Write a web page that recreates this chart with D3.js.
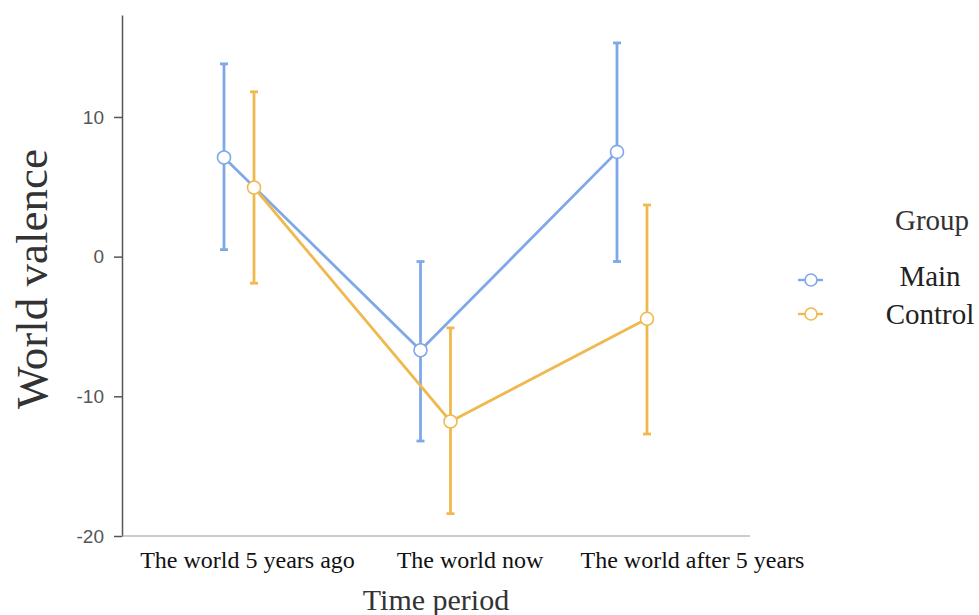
<!DOCTYPE html>
<html>
<head>
<meta charset="utf-8">
<script src="https://cdn.jsdelivr.net/npm/d3@7"></script>
<style>
  body { margin: 0; background: #fff; }
  svg { display: block; }
</style>
</head>
<body>
<svg id="chart" width="979" height="615"></svg>
<script>
// Time periods on the x axis
const periods = ["The world 5 years ago", "The world now", "The world after 5 years"];
const groups = ["Main", "Control"];
const groupColors = ["#7fa8e8", "#efb94f"];

// Group means and 95% interval bounds per period
const mainMean  = [7.1, -6.7, 7.5];
const mainLow   = [0.5, -13.2, -0.35];
const mainHigh  = [13.8, -0.35, 15.3];
const controlMean = [4.95, -11.8, -4.45];
const controlLow  = [-1.9, -18.4, -12.7];
const controlHigh = [11.8, -5.1, 3.7];
const yTicks = [-20, -10, 0, 10];

const series = [
  { name: groups[0], color: groupColors[0], mean: mainMean, low: mainLow, high: mainHigh, offset: -15 },
  { name: groups[1], color: groupColors[1], mean: controlMean, low: controlLow, high: controlHigh, offset: 15 }
];

const serif = "'Liberation Serif', 'Times New Roman', serif";
const svg = d3.select("#chart");
const plotLeft = 122, plotRight = 750, plotTop = 15, plotBottom = 536;

const x = d3.scalePoint().domain(periods).range([239, 632]);
const xLabel = d3.scalePoint().domain(periods).range([247, 692]);
const y = d3.scaleLinear().domain([-20, 17.3]).range([plotBottom, plotTop]);

// Y axis
const yAxis = svg.append("g")
  .attr("transform", `translate(${plotLeft},0)`)
  .call(d3.axisLeft(y).tickValues(yTicks).tickFormat(d => String(d))
    .tickSize(8).tickSizeOuter(0).tickPadding(10));
yAxis.select(".domain").attr("stroke", "#555").attr("stroke-width", 1.5);
yAxis.selectAll(".tick line").attr("stroke", "#555").attr("stroke-width", 1.5);
yAxis.selectAll(".tick text")
  .attr("fill", "#555")
  .style("font-family", "'Liberation Sans', Arial, sans-serif")
  .style("font-size", "19px");

// X axis baseline and category labels
const xAxis = svg.append("g")
  .attr("transform", `translate(0,${plotBottom})`)
  .call(d3.axisBottom(xLabel).tickSize(0).tickPadding(15));
xAxis.select(".domain").attr("d", `M${plotLeft},0H${plotRight}`).attr("stroke", "#999").attr("stroke-width", 1.2);
xAxis.selectAll(".tick text")
  .attr("fill", "#111")
  .style("font-family", serif)
  .style("font-size", "24px");

// Axis titles
svg.append("text")
  .attr("transform", `translate(47,279) rotate(-90)`)
  .attr("text-anchor", "middle")
  .attr("fill", "#333")
  .style("font-family", serif)
  .style("font-size", "45px")
  .text("World valence");

svg.append("text")
  .attr("x", 436).attr("y", 610)
  .attr("text-anchor", "middle")
  .attr("fill", "#333")
  .style("font-family", serif)
  .style("font-size", "30px")
  .text("Time period");

// Lines, error bars and markers per group
const line = d3.line();
series.forEach(s => {
  const g = svg.append("g");
  const px = periods.map(p => x(p) + s.offset);

  g.append("path")
    .attr("d", line(periods.map((p, i) => [px[i], y(s.mean[i])])))
    .attr("fill", "none")
    .attr("stroke", s.color)
    .attr("stroke-width", 2.8);

  periods.forEach((p, i) => {
    g.append("line")
      .attr("x1", px[i]).attr("x2", px[i])
      .attr("y1", y(s.low[i])).attr("y2", y(s.high[i]))
      .attr("stroke", s.color).attr("stroke-width", 2.8);
    [s.low[i], s.high[i]].forEach(v => {
      g.append("line")
        .attr("x1", px[i] - 4).attr("x2", px[i] + 4)
        .attr("y1", y(v)).attr("y2", y(v))
        .attr("stroke", s.color).attr("stroke-width", 2.8);
    });
  });

  g.selectAll("circle")
    .data(periods)
    .join("circle")
    .attr("cx", (p, i) => px[i])
    .attr("cy", (p, i) => y(s.mean[i]))
    .attr("r", 6.5)
    .attr("fill", "#fff")
    .attr("stroke", s.color)
    .attr("stroke-width", 1.6);
});

// Legend
const legend = svg.append("g");
legend.append("text")
  .attr("x", 932).attr("y", 230)
  .attr("text-anchor", "middle")
  .attr("fill", "#333")
  .style("font-family", serif)
  .style("font-size", "29px")
  .text("Group");

const legendY = [280, 314];
const legendTextY = [286, 324];
series.forEach((s, i) => {
  legend.append("line")
    .attr("x1", 798).attr("x2", 823)
    .attr("y1", legendY[i]).attr("y2", legendY[i])
    .attr("stroke", s.color).attr("stroke-width", 2.4);
  legend.append("circle")
    .attr("cx", 811).attr("cy", legendY[i]).attr("r", 6)
    .attr("fill", "#fff").attr("stroke", s.color).attr("stroke-width", 1.6);
  legend.append("text")
    .attr("x", 930).attr("y", legendTextY[i])
    .attr("text-anchor", "middle")
    .attr("fill", "#222")
    .style("font-family", serif)
    .style("font-size", "29px")
    .text(s.name);
});
</script>
</body>
</html>
